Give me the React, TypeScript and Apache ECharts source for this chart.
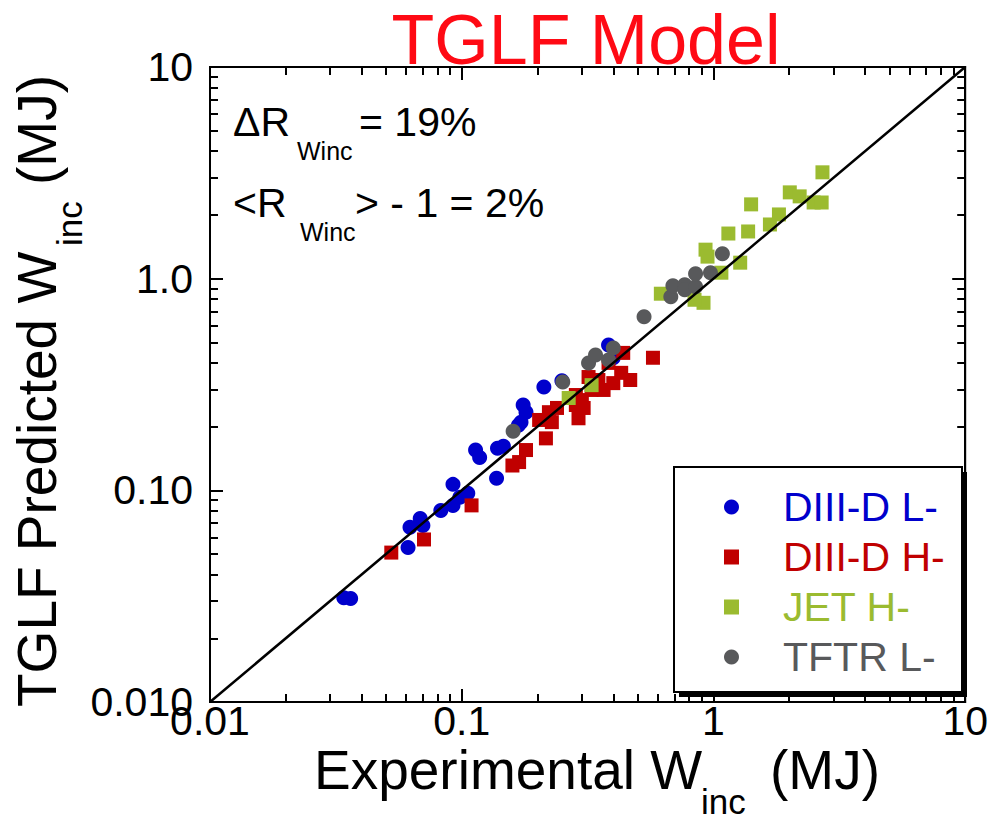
import React, { useEffect, useRef } from "react";
import * as echarts from "echarts";

// ---------- data ----------
const seriesNames = ["DIII-D L-", "DIII-D H-", "JET H-", "TFTR L-"];

// [experimental W_inc (MJ), TGLF predicted W_inc (MJ)]
const diiidL: number[][] = [
  [0.034, 0.0311], [0.0362, 0.0308], [0.0612, 0.0537], [0.0623, 0.0669],
  [0.0684, 0.0736], [0.0701, 0.0682], [0.0826, 0.0803], [0.0923, 0.0849],
  [0.0923, 0.1067], [0.0983, 0.0927], [0.1057, 0.0968], [0.1375, 0.114],
  [0.1135, 0.155], [0.1178, 0.143], [0.1387, 0.158], [0.1464, 0.1616],
  [0.172, 0.21], [0.1754, 0.253], [0.18, 0.234], [0.212, 0.308],
  [0.25, 0.329], [0.383, 0.486], [0.4, 0.423], [0.168, 0.203],
];
const diiidH: number[][] = [
  [0.0525, 0.0508], [0.0708, 0.0586], [0.1094, 0.0849], [0.159, 0.131],
  [0.169, 0.136], [0.18, 0.155], [0.216, 0.176], [0.203, 0.215],
  [0.222, 0.234], [0.239, 0.245], [0.228, 0.21], [0.284, 0.253],
  [0.291, 0.219], [0.305, 0.245], [0.319, 0.343], [0.328, 0.298],
  [0.284, 0.282], [0.366, 0.298], [0.4, 0.321], [0.467, 0.332],
  [0.43, 0.359], [0.438, 0.446], [0.383, 0.4], [0.575, 0.423],
  [0.349, 0.332], [0.3, 0.267],
];
const jetH: number[][] = [
  [0.266, 0.273], [0.328, 0.314], [0.618, 0.849], [0.913, 0.769],
  [0.841, 0.795], [1.075, 1.067], [1.277, 1.19], [0.93, 1.371],
  [0.947, 1.271], [1.146, 1.634], [1.373, 1.671], [1.411, 2.244],
  [1.676, 1.803], [1.82, 2.011], [2.01, 2.557], [2.2, 2.448],
  [2.5, 2.29], [2.69, 2.29], [2.71, 3.18],
];
const tftrL: number[][] = [
  [0.16, 0.19], [0.252, 0.325], [0.319, 0.4], [0.34, 0.436],
  [0.383, 0.413], [0.4, 0.471], [0.53, 0.661], [0.677, 0.822],
  [0.69, 0.927], [0.769, 0.937], [0.769, 0.887], [0.849, 0.916],
  [0.849, 1.056], [0.973, 1.067], [1.085, 1.313],
];
// unity line
const unityLine: number[][] = [[0.01, 0.01], [10, 10]];

const xTickLabels = ["0.01", "0.1", "1", "10"];
const yTickLabels = ["0.010", "0.10", "1.0", "10"];
const AXIS_MIN = 0.01;
const AXIS_MAX = 10;

// ---------- styles ----------
const FONT = "'Liberation Sans', Arial, Helvetica, sans-serif";
const colors = ["#0000CC", "#C00000", "#9BBB30", "#58595B"];
const textColors = ["#0000CC", "#C00000", "#9BBB30", "#58595B"];
const symbols = ["circle", "rect", "rect", "circle"];
const symbolSizes = [15, 14, 14, 15];
const MAJOR_LEN = 13;
const MINOR_LEN = 8;

function txt(x: number, y: number, text: string, size: number, extra: any = {}) {
  return {
    type: "text",
    x,
    y,
    style: {
      text,
      fill: "#000",
      fontSize: size,
      fontFamily: FONT,
      align: "left",
      verticalAlign: "middle",
      textAlign: "left",
      textVerticalAlign: "middle",
      ...extra,
    },
  };
}

const lblIdx = (v: number) => Math.round(Math.log10(v)) + 2;

function logAxis(position: string, labels: string[] | null, margin: number, lineHeight: number) {
  return {
    type: "log",
    logBase: 10,
    min: AXIS_MIN,
    max: AXIS_MAX,
    position,
    gridIndex: 0,
    axisLine: { show: true, onZero: false, lineStyle: { color: "#000", width: 2 } },
    axisTick: { show: true, inside: true, length: MAJOR_LEN, lineStyle: { color: "#000", width: 2 } },
    minorTick: { show: true, splitNumber: 9, length: MINOR_LEN, lineStyle: { color: "#000", width: 2 } },
    splitLine: { show: false },
    minorSplitLine: { show: false },
    axisLabel: labels
      ? {
          show: true,
          fontSize: 41,
          lineHeight,
          color: "#000",
          fontFamily: FONT,
          margin,
          formatter: (v: number) => labels[lblIdx(v)] ?? "",
        }
      : { show: false },
  };
}

export default function App() {
  const ref = useRef<HTMLDivElement>(null);

  useEffect(() => {
    if (!ref.current) return;
    const chart = echarts.init(ref.current, null, { renderer: "svg" });

    const dataSets = [diiidL, diiidH, jetH, tftrL];

    const option: any = {
      animation: false,
      backgroundColor: "#fff",
      title: {
        text: "TGLF Model",
        left: 581,
        top: 0,
        textAlign: "center",
        textStyle: { fontSize: 70, color: "#FF0A14", fontWeight: "normal", fontFamily: FONT },
      },
      grid: {
        left: 210,
        top: 67,
        right: 22,
        bottom: 134,
        show: true,
        borderColor: "#000",
        borderWidth: 2,
        backgroundColor: "transparent",
      },
      xAxis: [logAxis("bottom", xTickLabels, 3, 32), logAxis("top", null, 0, 30)],
      yAxis: [logAxis("left", yTickLabels, 17, 30), logAxis("right", null, 0, 30)],
      legend: {
        orient: "vertical",
        left: 674,
        top: 467,
        padding: [18, 10, 10, 50],
        itemGap: 6,
        itemWidth: 15,
        itemHeight: 15,
        z: 10,
        textStyle: { fontSize: 41, lineHeight: 44, fontFamily: FONT, padding: [0, 0, 0, 39] },
        data: seriesNames.map((n, i) => ({
          name: n,
          icon: symbols[i],
          textStyle: { color: textColors[i], fontSize: 41, fontFamily: FONT },
        })),
      },
      graphic: [
        // legend box with shadow
        { type: "rect", z: 5, shape: { x: 679, y: 472, width: 288, height: 225 }, style: { fill: "#000" } },
        {
          type: "rect",
          z: 6,
          shape: { x: 674, y: 467, width: 288, height: 225 },
          style: { fill: "#fff", stroke: "#000", lineWidth: 2 },
        },
        // statistics annotation
        txt(233, 122, "\u0394R", 41),
        txt(297, 151, "Winc", 25),
        txt(359, 122, "= 19%", 41),
        txt(233, 203, "<R", 41),
        txt(300, 232, "Winc", 25),
        txt(355, 203, "> - 1 = 2%", 41),
        // x axis title
        txt(314, 770, "Experimental W", 55),
        txt(701, 801, "inc", 35),
        txt(770, 770, "(MJ)", 55),
        // y axis title (rotated)
        {
          type: "group",
          x: 36.5,
          y: 707,
          rotation: Math.PI / 2,
          children: [
            txt(0, 0, "TGLF Predicted W", 55),
            txt(461, 33, "inc", 35),
            txt(522, 0, "(MJ)", 55),
          ],
        },
      ],
      series: [
        ...dataSets.map((d, i) => ({
          name: seriesNames[i],
          type: "scatter",
          xAxisIndex: 0,
          yAxisIndex: 0,
          data: d,
          symbol: symbols[i],
          symbolSize: symbolSizes[i],
          itemStyle: { color: colors[i], opacity: 1 },
          z: 2,
        })),
        {
          name: "unity",
          type: "line",
          xAxisIndex: 0,
          yAxisIndex: 0,
          data: unityLine,
          showSymbol: false,
          symbol: "none",
          lineStyle: { color: "#000", width: 2.5 },
          silent: true,
          z: 3,
        },
      ],
    };

    chart.setOption(option);
    return () => chart.dispose();
  }, []);

  return (
    <div
      ref={ref}
      style={{ position: "absolute", left: 0, top: 0, width: 991, height: 836, background: "#fff" }}
    />
  );
}
